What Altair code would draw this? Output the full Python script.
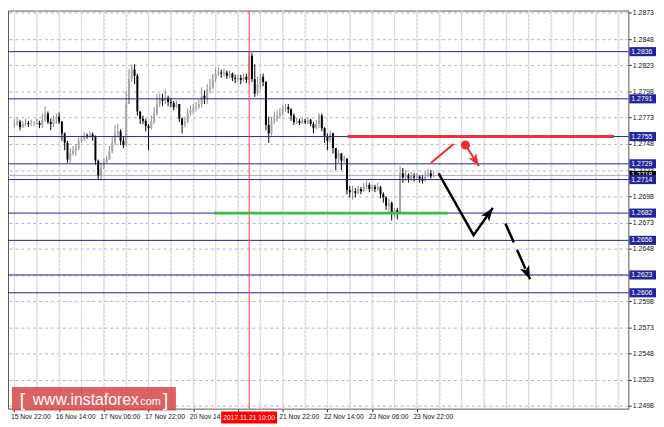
import math
import altair as alt
import pandas as pd

# ---------------- data ----------------
time_labels = ["15 Nov 22:00", "16 Nov 14:00", "17 Nov 06:00", "17 Nov 22:00",
               "20 Nov 14:00", "21 Nov 06:00", "21 Nov 22:00", "22 Nov 14:00",
               "23 Nov 06:00", "23 Nov 22:00"]
price_ticks = [1.2873, 1.2848, 1.2823, 1.2798, 1.2773, 1.2748, 1.2723, 1.2698,
               1.2673, 1.2648, 1.2623, 1.2598, 1.2573, 1.2548, 1.2523, 1.2498]
level_prices = [1.2836, 1.2791, 1.2755, 1.2729, 1.2714, 1.2682, 1.2656, 1.2623, 1.2606]
current_price = 1.2718
marker_index = 84
marker_label = "2017.11.21 10:00"

first_open = 1.2766
closes = [1.2767, 1.2769, 1.2764, 1.2767, 1.2768, 1.2767, 1.2767, 1.2767, 1.2768, 1.2766,
          1.2771, 1.2777, 1.2769, 1.2767, 1.2772, 1.2774, 1.2769, 1.2758, 1.2749, 1.2733,
          1.2739, 1.2742, 1.2744, 1.2751, 1.2753, 1.2756, 1.2755, 1.2757, 1.2755, 1.2732,
          1.2718, 1.2725, 1.2730, 1.2733, 1.2741, 1.2749, 1.2758, 1.2760, 1.2751, 1.2747,
          1.2786, 1.2810, 1.2819, 1.2813, 1.2779, 1.2772, 1.2770, 1.2765, 1.2763, 1.2769,
          1.2777, 1.2786, 1.2791, 1.2789, 1.2792, 1.2788, 1.2787, 1.2783, 1.2786, 1.2772,
          1.2766, 1.2769, 1.2777, 1.2780, 1.2782, 1.2783, 1.2786, 1.2794, 1.2791, 1.2800,
          1.2802, 1.2810, 1.2815, 1.2816, 1.2815, 1.2816, 1.2813, 1.2815, 1.2811, 1.2810,
          1.2811, 1.2809, 1.2812, 1.2809, 1.2832, 1.2810, 1.2796, 1.2805, 1.2812, 1.2807,
          1.2766, 1.2758, 1.2770, 1.2772, 1.2775, 1.2777, 1.2782, 1.2783, 1.2781, 1.2775,
          1.2769, 1.2770, 1.2768, 1.2770, 1.2769, 1.2771, 1.2767, 1.2763, 1.2767, 1.2775,
          1.2763, 1.2755, 1.2751, 1.2758, 1.2744, 1.2734, 1.2739, 1.2732, 1.2734, 1.2704,
          1.2702, 1.2703, 1.2701, 1.2705, 1.2703, 1.2707, 1.2709, 1.2705, 1.2707, 1.2705,
          1.2707, 1.2700, 1.2697, 1.2689, 1.2692, 1.2683, 1.2685, 1.2683, 1.2720, 1.2716,
          1.2718, 1.2715, 1.2717, 1.2716, 1.2717, 1.2715, 1.2713, 1.2717, 1.2720, 1.2717,
          1.2718]
highs = [1.2772, 1.2773, 1.2771, 1.2770, 1.2772, 1.2770, 1.2771, 1.2770, 1.2772, 1.2770,
         1.2777, 1.2784, 1.2779, 1.2772, 1.2775, 1.2777, 1.2778, 1.2770, 1.2759, 1.2751,
         1.2744, 1.2746, 1.2748, 1.2754, 1.2756, 1.2759, 1.2758, 1.2760, 1.2759, 1.2756,
         1.2733, 1.2730, 1.2734, 1.2737, 1.2746, 1.2755, 1.2766, 1.2767, 1.2762, 1.2755,
         1.2798, 1.2819, 1.2824, 1.2824, 1.2815, 1.2779, 1.2775, 1.2772, 1.2767, 1.2775,
         1.2783, 1.2796, 1.2796, 1.2796, 1.2800, 1.2794, 1.2792, 1.2789, 1.2789, 1.2786,
         1.2773, 1.2774, 1.2782, 1.2785, 1.2786, 1.2788, 1.2790, 1.2802, 1.2799, 1.2805,
         1.2810, 1.2815, 1.2820, 1.2821, 1.2819, 1.2820, 1.2818, 1.2818, 1.2816, 1.2814,
         1.2814, 1.2814, 1.2815, 1.2815, 1.2836, 1.2835, 1.2824, 1.2812, 1.2815, 1.2815,
         1.2808, 1.2774, 1.2774, 1.2779, 1.2780, 1.2782, 1.2785, 1.2786, 1.2786, 1.2782,
         1.2777, 1.2773, 1.2772, 1.2773, 1.2772, 1.2773, 1.2772, 1.2769, 1.2771, 1.2777,
         1.2777, 1.2764, 1.2758, 1.2761, 1.2759, 1.2744, 1.2742, 1.2739, 1.2737, 1.2734,
         1.2708, 1.2708, 1.2706, 1.2708, 1.2707, 1.2711, 1.2713, 1.2711, 1.2709, 1.2709,
         1.2711, 1.2708, 1.2702, 1.2698, 1.2696, 1.2693, 1.2687, 1.2687, 1.2727, 1.2725,
         1.2723, 1.2720, 1.2721, 1.2720, 1.2720, 1.2718, 1.2718, 1.2722, 1.2724, 1.2723,
         1.2722]
lows = [1.2764, 1.2765, 1.2761, 1.2763, 1.2765, 1.2764, 1.2765, 1.2765, 1.2766, 1.2763,
        1.2763, 1.2769, 1.2767, 1.2761, 1.2764, 1.2767, 1.2767, 1.2751, 1.2742, 1.2730,
        1.2730, 1.2737, 1.2737, 1.2742, 1.2749, 1.2751, 1.2753, 1.2754, 1.2751, 1.2728,
        1.2714, 1.2714, 1.2724, 1.2730, 1.2733, 1.2739, 1.2747, 1.2755, 1.2747, 1.2744,
        1.2746, 1.2786, 1.2807, 1.2805, 1.2775, 1.2767, 1.2767, 1.2760, 1.2742, 1.2762,
        1.2767, 1.2775, 1.2783, 1.2784, 1.2786, 1.2784, 1.2783, 1.2780, 1.2782, 1.2769,
        1.2758, 1.2764, 1.2768, 1.2775, 1.2777, 1.2779, 1.2781, 1.2783, 1.2786, 1.2786,
        1.2796, 1.2800, 1.2807, 1.2813, 1.2811, 1.2812, 1.2810, 1.2811, 1.2808, 1.2806,
        1.2807, 1.2805, 1.2808, 1.2806, 1.2805, 1.2807, 1.2793, 1.2794, 1.2800, 1.2803,
        1.2761, 1.2749, 1.2756, 1.2767, 1.2769, 1.2772, 1.2775, 1.2779, 1.2777, 1.2770,
        1.2766, 1.2767, 1.2766, 1.2767, 1.2767, 1.2767, 1.2765, 1.2758, 1.2762, 1.2763,
        1.2760, 1.2749, 1.2742, 1.2749, 1.2739, 1.2723, 1.2730, 1.2723, 1.2730, 1.2700,
        1.2697, 1.2695, 1.2697, 1.2700, 1.2700, 1.2702, 1.2705, 1.2702, 1.2703, 1.2702,
        1.2703, 1.2696, 1.2692, 1.2685, 1.2683, 1.2675, 1.2678, 1.2676, 1.2681, 1.2711,
        1.2713, 1.2711, 1.2713, 1.2712, 1.2714, 1.2711, 1.2710, 1.2712, 1.2716, 1.2715,
        1.2716]

# drawn analysis objects (candle index, price)
resistance_price = 1.2755
resistance_span = [119.2, 214.5]
support_price = 1.2682
support_span = [71.3, 155.2]
red_stroke_idx = [149.1, 157.2]
red_stroke_price = [1.2730, 1.2748]
red_arrow_idx = [161.4, 166.2]
red_arrow_price = [1.2747, 1.2727]
black_path_idx = [151.8, 164.3, 171.2]
black_path_price = [1.2720, 1.2661, 1.2687]
dashed_idx = [175.7, 184.5]
dashed_price = [1.2672, 1.2619]

# ---------------- layout / style ----------------
W, H = 628, 403
STEP = 2.875                      # pixels per hourly candle
X_DOM = [-1.5 / STEP, (W - 1.5) / STEP]
Y_DOM = [1.24955, 1.28752]
PX_X = W / (X_DOM[1] - X_DOM[0])
PX_Y = H / (Y_DOM[1] - Y_DOM[0])
NAVY = "#23239a"
GRID = "#b4b4b4"
FONT = "Liberation Sans"
ARROW = "M0,0 L0.75,2 L0,1.5 L-0.75,2 Z"

xs = alt.Scale(domain=X_DOM, nice=False, zero=False)
ys = alt.Scale(domain=Y_DOM, nice=False, zero=False)

n_lab = len(time_labels)
grid_steps = list(range(0, 217, 8))
labels_js = "[" + ",".join("'%s'" % s for s in time_labels) + "]"
x_label_expr = ("datum.value %% 16 === 0 && datum.value / 16 < %d && abs(datum.value - %d) > 8"
                " ? %s[datum.value / 16] : ''" % (n_lab, marker_index, labels_js))
x_axis = alt.Axis(values=grid_steps, labelExpr=x_label_expr, title=None,
                  grid=True, gridColor="#cfcfcf", gridDash=[2, 2], gridWidth=1,
                  tickColor={"condition": {"test": "datum.value %% 16 === 0 && datum.value / 16 < %d"
                                                   % n_lab, "value": "#333333"},
                             "value": "transparent"})
y_axis = alt.Axis(orient="right", values=price_ticks, format=".4f", title=None,
                  grid=True, gridColor=GRID, gridDash=[3, 3])


def X(f, **kw):
    return alt.X(f, type="quantitative", scale=xs, axis=x_axis, title=None, **kw)


def Y(f, **kw):
    return alt.Y(f, type="quantitative", scale=ys, axis=y_axis, title=None, **kw)


def head_angle(i0, p0, i1, p1):
    dx = (i1 - i0) * PX_X
    dy = -(p1 - p0) * PX_Y
    return math.degrees(math.atan2(dx, -dy)) % 360


opens = [first_open] + closes[:-1]
candles = pd.DataFrame({"idx": list(range(len(closes))), "open": opens,
                        "high": highs, "low": lows, "close": closes})

up = alt.datum.close >= alt.datum.open

# vertical time grid (one line every 8 hourly candles)
vgrid = alt.Chart(pd.DataFrame({"g": grid_steps})).mark_rule(
    color="#dadada", strokeWidth=1, opacity=1).encode(
    x=X("g"), y=alt.value(0), y2=alt.value(H))

price_line = alt.Chart(pd.DataFrame({"price": [current_price]})).mark_rule(
    color="#a9a9a9", strokeWidth=1).encode(y=Y("price"))

wicks = alt.Chart(candles).mark_rule(strokeWidth=1).encode(
    x=X("idx"), y=Y("low"), y2="high",
    color=alt.condition(up, alt.value("#8a8a8a"), alt.value("#000000")))

bodies = alt.Chart(candles).mark_bar(size=2).encode(
    x=X("idx"), y=Y("open"), y2="close",
    color=alt.condition(up, alt.value("#a6a6a6"), alt.value("#000000")))

levels_df = pd.DataFrame({"price": level_prices})
levels = alt.Chart(levels_df).mark_rule(color=NAVY, strokeWidth=1).encode(y=Y("price"))

vline = alt.Chart(pd.DataFrame({"idx": [marker_index]})).mark_rule(
    color="#ff3c3c", strokeWidth=1).encode(x=X("idx"))

seg_df = pd.DataFrame({"a": [resistance_span[0], support_span[0]],
                       "b": [resistance_span[1], support_span[1]],
                       "price": [resistance_price, support_price],
                       "kind": ["res", "sup"]})
segs = alt.Chart(seg_df).mark_rule(strokeWidth=3).encode(
    x=X("a"), x2="b", y=Y("price"),
    color=alt.Color("kind:N", scale=alt.Scale(domain=["res", "sup"],
                                              range=["#e8323c", "#3dba47"]), legend=None))

red_stroke = alt.Chart(pd.DataFrame({"idx": red_stroke_idx, "price": red_stroke_price})).mark_line(
    color="#ee2a2a", strokeWidth=2).encode(x=X("idx"), y=Y("price"))
red_shaft = alt.Chart(pd.DataFrame({"idx": red_arrow_idx, "price": red_arrow_price})).mark_line(
    color="#ee2a2a", strokeWidth=2).encode(x=X("idx"), y=Y("price"))
red_dot = alt.Chart(pd.DataFrame({"idx": red_arrow_idx[:1], "price": red_arrow_price[:1]})).mark_circle(
    color="#ee2a2a", size=85, opacity=1).encode(x=X("idx"), y=Y("price"))
red_head = alt.Chart(pd.DataFrame({"idx": red_arrow_idx[1:], "price": red_arrow_price[1:]})).mark_point(
    shape=ARROW, filled=True, size=150, color="#ee2a2a", opacity=1, strokeWidth=0,
    angle=head_angle(red_arrow_idx[0], red_arrow_price[0], red_arrow_idx[1], red_arrow_price[1])
).encode(x=X("idx"), y=Y("price"))

black_path = alt.Chart(pd.DataFrame({"idx": black_path_idx, "price": black_path_price})).mark_line(
    color="#000000", strokeWidth=2.5).encode(x=X("idx"), y=Y("price"))
black_head = alt.Chart(pd.DataFrame({"idx": black_path_idx[2:], "price": black_path_price[2:]})).mark_point(
    shape=ARROW, filled=True, size=180, color="#000000", opacity=1, strokeWidth=0,
    angle=head_angle(black_path_idx[1], black_path_price[1], black_path_idx[2], black_path_price[2])
).encode(x=X("idx"), y=Y("price"))

dashed = alt.Chart(pd.DataFrame({"idx": dashed_idx, "price": dashed_price})).mark_line(
    color="#000000", strokeWidth=2.5, strokeDash=[21, 8]).encode(x=X("idx"), y=Y("price"))
dashed_head = alt.Chart(pd.DataFrame({"idx": dashed_idx[1:], "price": dashed_price[1:]})).mark_point(
    shape=ARROW, filled=True, size=180, color="#000000", opacity=1, strokeWidth=0,
    angle=head_angle(dashed_idx[0], dashed_price[0], dashed_idx[1], dashed_price[1])
).encode(x=X("idx"), y=Y("price"))

# price tags on the right-hand scale
half = 4.6 / PX_Y
cur_df = pd.DataFrame({"price": [current_price], "lo": [current_price - half],
                       "hi": [current_price + half], "label": ["%.4f" % current_price]})
tag_df = pd.DataFrame({"price": level_prices,
                       "lo": [p - half for p in level_prices],
                       "hi": [p + half for p in level_prices],
                       "label": ["%.4f" % p for p in level_prices]})


def tags(df, fill):
    box = alt.Chart(df).mark_rect(color=fill).encode(
        x=alt.value(W + 1), x2=alt.value(W + 28), y=Y("lo"), y2="hi")
    txt = alt.Chart(df).mark_text(align="left", baseline="middle", color="white",
                                  fontSize=7, font=FONT).encode(
        x=alt.value(W + 3), y=Y("price"), text="label:N")
    return [box, txt]


date_df = pd.DataFrame({"a": [marker_index - 10], "b": [marker_index + 10],
                        "idx": [marker_index], "label": [marker_label]})
date_box = alt.Chart(date_df).mark_rect(color="#ff0000").encode(
    x=X("a"), x2="b", y=alt.value(H + 3), y2=alt.value(H + 15))
date_txt = alt.Chart(date_df).mark_text(color="white", fontSize=6.8, font=FONT,
                                        baseline="middle", align="center").encode(
    x=X("idx"), y=alt.value(H + 9.5), text="label:N")

wm = pd.DataFrame({"t": ["www.instaforex"]})
wm_box = alt.Chart(wm).mark_rect(color="#d54848", opacity=0.85).encode(
    x=alt.value(4), x2=alt.value(170), y=alt.value(381), y2=alt.value(405))
wm_l = alt.Chart(wm).mark_text(text="[", color="white", fontSize=19, font=FONT,
                               align="left", baseline="alphabetic").encode(
    x=alt.value(12), y=alt.value(400))
wm_main = alt.Chart(wm).mark_text(color="white", fontSize=16, font=FONT,
                                  align="left", baseline="alphabetic").encode(
    x=alt.value(25), y=alt.value(399), text="t:N")
wm_com = alt.Chart(wm).mark_text(text="com", color="white", fontSize=11, font=FONT,
                                 align="left", baseline="alphabetic").encode(
    x=alt.value(134), y=alt.value(399))
wm_r = alt.Chart(wm).mark_text(text="]", color="white", fontSize=19, font=FONT,
                               align="left", baseline="alphabetic").encode(
    x=alt.value(157), y=alt.value(400))

layers = [vgrid, price_line, wicks, bodies, levels, vline, segs, red_stroke, red_shaft,
          red_dot, red_head, black_path, black_head, dashed, dashed_head]
layers += tags(cur_df, "#000000")
layers += tags(tag_df, NAVY)
layers += [date_box, date_txt, wm_box, wm_l, wm_main, wm_com, wm_r]

chart = alt.layer(*layers).properties(
    width=W, height=H,
    padding={"left": 0, "top": 0, "right": 28, "bottom": 16},
    autosize=alt.AutoSizeParams(type="none"),
    background="white",
).configure_view(
    stroke="#555555", strokeWidth=1
).configure_axis(
    domain=False, tickSize=3, labelFont=FONT, labelColor="#111111", labelOverlap=False,
    labelFlush=False, title=None
).configure_axisX(
    labelAlign="left", labelBaseline="top", labelPadding=2, labelOffset=-4,
    labelFontSize=6.8
).configure_axisY(
    tickColor="#333333", labelPadding=1, labelFontSize=7
)

chart.save("out.html", embed_options={"renderer": "svg", "actions": False})
